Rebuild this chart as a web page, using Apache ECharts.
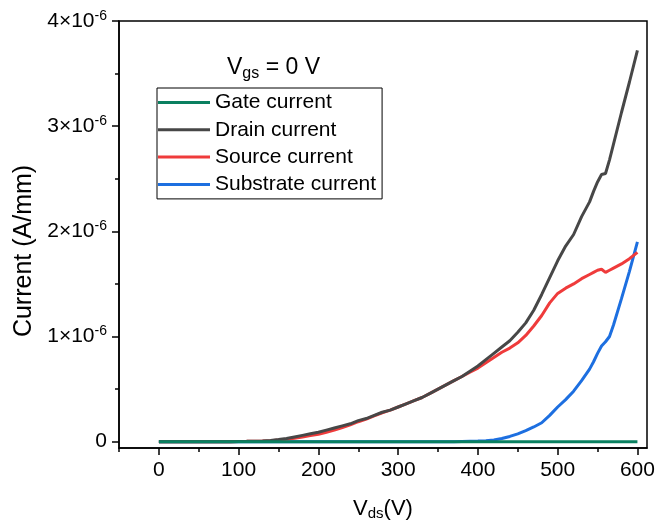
<!DOCTYPE html>
<html>
<head>
<meta charset="utf-8">
<script src="https://cdn.jsdelivr.net/npm/echarts@6/dist/echarts.min.js"></script>
<style>
  html, body { margin: 0; padding: 0; background: #fff; }
  #chart { width: 656px; height: 521px; }
</style>
</head>
<body>
<div id="chart"></div>
<script>
// values in units of 1e-6 A/mm
const volts = [
  0, 10, 20, 30, 40, 50, 60, 70, 80, 90,
  100, 110, 120, 130, 140, 150, 160, 170, 180, 190,
  200, 210, 220, 230, 240, 250, 260, 270, 280, 290,
  300, 310, 320, 330, 340, 350, 360, 370, 380, 390,
  400, 410, 420, 430, 440, 450, 460, 470, 480, 490,
  500, 510, 520, 530, 540, 545, 550, 555, 560, 565,
  570, 580, 590, 600
];
const drain = [
  0, 0, 0, 0, 0, 0, 0, 0, 0, 0,
  0.002, 0.003, 0.005, 0.007, 0.012, 0.02, 0.03, 0.045, 0.06, 0.075,
  0.09, 0.11, 0.13, 0.15, 0.17, 0.2, 0.22, 0.25, 0.28, 0.3,
  0.33, 0.36, 0.39, 0.42, 0.46, 0.5, 0.54, 0.58, 0.62, 0.67,
  0.72, 0.78, 0.84, 0.9, 0.96, 1.04, 1.13, 1.25, 1.4, 1.56,
  1.72, 1.86, 1.97, 2.14, 2.28, 2.38, 2.47, 2.54, 2.55, 2.68,
  2.83, 3.13, 3.42, 3.72
];
const source = [
  0, 0, 0, 0, 0, 0, 0, 0, 0, 0,
  0.002, 0.003, 0.005, 0.007, 0.01, 0.015, 0.022, 0.032, 0.045, 0.058,
  0.07, 0.09, 0.11, 0.135, 0.16, 0.19, 0.215, 0.245, 0.275, 0.3,
  0.33, 0.36, 0.39, 0.42, 0.46, 0.5, 0.54, 0.58, 0.62, 0.66,
  0.7, 0.75, 0.8, 0.85, 0.89, 0.94, 1.01, 1.1, 1.2, 1.32,
  1.41, 1.46, 1.5, 1.55, 1.59, 1.61, 1.63, 1.64, 1.61, 1.63,
  1.65, 1.69, 1.74, 1.8
];
const substrate = [
  0, 0, 0, 0, 0, 0, 0, 0, 0, 0,
  0, 0, 0, 0, 0, 0, 0, 0, 0, 0,
  0, 0, 0, 0, 0, 0, 0, 0, 0, 0,
  0, 0, 0, 0, 0, 0, 0, 0, 0.002, 0.004,
  0.006, 0.01, 0.016, 0.03, 0.05, 0.075, 0.105, 0.14, 0.18, 0.25,
  0.33, 0.4, 0.48, 0.58, 0.69, 0.76, 0.84, 0.91, 0.95, 1.0,
  1.11, 1.36, 1.62, 1.9
];
const gate = volts.map(() => 0);

const names = ['Gate current', 'Drain current', 'Source current', 'Substrate current'];
const colors = ['#0a8060', '#474747', '#ef3b3b', '#1d6fe0'];
const xMajor = [0, 100, 200, 300, 400, 500, 600];
const xMinor = [-50, 50, 150, 250, 350, 450, 550];
const yMajor = [0, 1, 2, 3, 4];
const yMinor = [0.5, 1.5, 2.5, 3.5];

const chart = echarts.init(document.getElementById('chart'));

const pair = (ys) => volts.map((v, i) => [v, ys[i]]);
const seriesData = [gate, drain, source, substrate];
// draw order: substrate, source, drain, gate on top
const order = [3, 2, 1, 0];
const font = 'Liberation Sans';
const yMin = -0.06;

chart.setOption({
  animation: false,
  textStyle: { fontFamily: font },
  title: {
    text: '{a|V}{b|gs}{a| = 0 V}',
    left: 222,
    top: 49,
    textStyle: {
      fontWeight: 'normal',
      rich: {
        a: { fontSize: 23, color: '#000', fontFamily: font, fontWeight: 'normal' },
        b: { fontSize: 16, color: '#000', fontFamily: font, fontWeight: 'normal', padding: [12, 0, 0, 0] }
      }
    }
  },
  legend: {
    orient: 'vertical',
    left: 157,
    top: 88,
    data: names.map((n) => ({ name: n, icon: 'rect' })),
    itemWidth: 52,
    itemHeight: 3,
    itemGap: 6.3,
    padding: [4, 6, 4, 1],
    borderColor: '#000',
    borderWidth: 1,
    textStyle: { fontSize: 21, color: '#000', fontFamily: font, lineHeight: 21 }
  },
  grid: {
    left: 119, right: 9, top: 21, bottom: 73,
    outerBoundsMode: 'none',
    containLabel: false,
    show: true, borderColor: '#000', borderWidth: 1.5
  },
  xAxis: [
    {
      type: 'value', min: -50, max: 612,
      splitLine: { show: false },
      axisLine: { onZero: false, lineStyle: { color: '#000', width: 1.5 } },
      axisTick: { customValues: xMajor, length: 7, lineStyle: { color: '#000', width: 1.5 } },
      axisLabel: { customValues: xMajor, fontSize: 21, color: '#000', margin: 12, fontFamily: font },
      name: '{a|V}{b|ds}{a|(V)}',
      nameLocation: 'middle',
      nameGap: 48,
      nameTextStyle: {
        rich: {
          a: { fontSize: 22, color: '#000', fontFamily: font },
          b: { fontSize: 15, color: '#000', fontFamily: font, padding: [10, 0, 0, 0] }
        }
      }
    },
    {
      type: 'value', min: -50, max: 612, position: 'bottom',
      splitLine: { show: false },
      axisLine: { show: false, onZero: false },
      axisTick: { customValues: xMinor, length: 4, lineStyle: { color: '#000', width: 1.5 } },
      axisLabel: { show: false }
    }
  ],
  yAxis: [
    {
      type: 'value', min: yMin, max: 4,
      splitLine: { show: false },
      axisLine: { onZero: false, lineStyle: { color: '#000', width: 1.5 } },
      axisTick: { customValues: yMajor, length: 7, lineStyle: { color: '#000', width: 1.5 } },
      axisLabel: {
        customValues: yMajor,
        margin: 12,
        formatter: (v) => (v === 0 ? '{m|0}' : '{m|' + v + '×10}{s|-6}'),
        rich: {
          m: { fontSize: 21, color: '#000', fontFamily: font },
          s: { fontSize: 14, color: '#000', fontFamily: font, verticalAlign: 'top', padding: [0, 0, 10, 0] }
        }
      },
      name: 'Current (A/mm)',
      nameLocation: 'middle',
      nameGap: 82,
      nameTextStyle: { fontSize: 25, color: '#000', fontFamily: font, padding: [0, 0, 0, -33] }
    },
    {
      type: 'value', min: yMin, max: 4, position: 'left',
      splitLine: { show: false },
      axisLine: { show: false, onZero: false },
      axisTick: { customValues: yMinor, length: 4, lineStyle: { color: '#000', width: 1.5 } },
      axisLabel: { show: false }
    }
  ],
  series: order.map((k) => ({
    name: names[k],
    type: 'line',
    data: pair(seriesData[k]),
    showSymbol: false,
    smooth: false,
    color: colors[k],
    lineStyle: { width: 3, color: colors[k] },
    z: 10 - k
  }))
});
</script>
</body>
</html>
